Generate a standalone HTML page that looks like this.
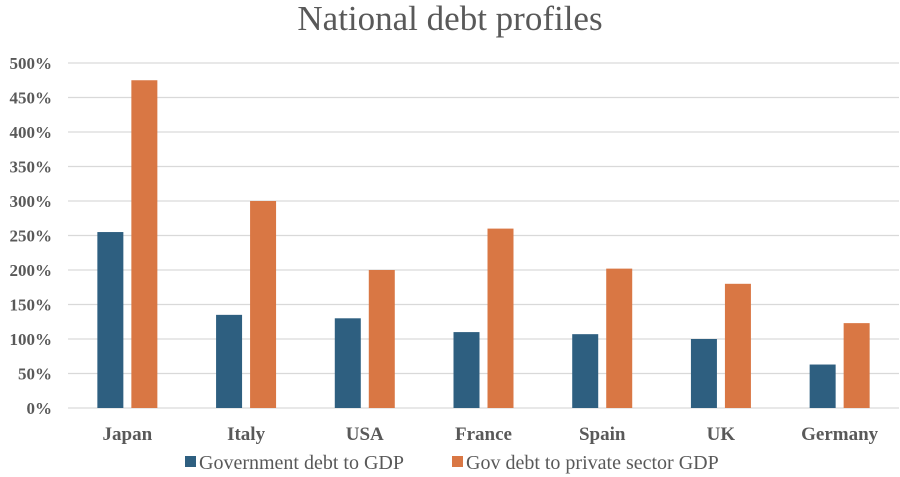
<!DOCTYPE html>
<html><head><meta charset="utf-8"><style>
body{margin:0;background:#fff;}
svg{display:block;font-family:"Liberation Serif",serif;}
</style></head><body>
<svg id="chart" width="900" height="477" viewBox="0 0 900 477">
<text x="450" y="30" text-anchor="middle" font-size="35" fill="#595959">National debt profiles</text>
<g id="grid"></g><g id="bars"></g><g id="labels"></g>
<g>
<g>
<rect x="185" y="456" width="11" height="11" fill="#2e5f80"/>
<text x="199" y="469" font-size="20" fill="#595959">Government debt to GDP</text></g>
<g>
<rect x="452" y="456" width="11" height="11" fill="#d97744"/>
<text x="466" y="469" font-size="20" fill="#595959">Gov debt to private sector GDP</text></g>
</g>
</svg>
<script>
const categories=["Japan","Italy","USA","France","Spain","UK","Germany"];
const govDebt=[255,135,130,110,107,100,63];
const privDebt=[475,300,200,260,202,180,123];
const ticks=[0,50,100,150,200,250,300,350,400,450,500];
const NS="http://www.w3.org/2000/svg";
const x0=68,x1=899,y0=408,yTop=63,yMax=500;
const bw=(x1-x0)/categories.length;
const y=v=>y0-(v/yMax)*(y0-yTop);
function mk(t,a,p){const e=document.createElementNS(NS,t);for(const k in a)e.setAttribute(k,a[k]);p.appendChild(e);return e;}
const grid=document.getElementById('grid'),bars=document.getElementById('bars'),labels=document.getElementById('labels');
ticks.forEach(t=>{
 const l=mk('line',{x1:x0,x2:x1,y1:y(t),y2:y(t),stroke:'#d9d9d9','stroke-width':1.2},grid);
 
 
 const tx=mk('text',{x:52,y:y(t)+6,'text-anchor':'end','font-size':17,'font-weight':'bold',fill:'#595959'},labels);
 tx.textContent=t+'%';
 
 
});
categories.forEach((c,i)=>{
 const cx=x0+bw*(i+0.5);
 const b1=mk('rect',{x:cx-30,y:y(govDebt[i]),width:26,height:y0-y(govDebt[i]),fill:'#2e5f80'},bars);
 
 
 const b2=mk('rect',{x:cx+4,y:y(privDebt[i]),width:26,height:y0-y(privDebt[i]),fill:'#d97744'},bars);
 
 
 const t=mk('text',{x:cx,y:440,'text-anchor':'middle','font-size':19,'font-weight':'bold',fill:'#595959'},labels);
 t.textContent=c;
 
 
});
</script>
</body></html>
